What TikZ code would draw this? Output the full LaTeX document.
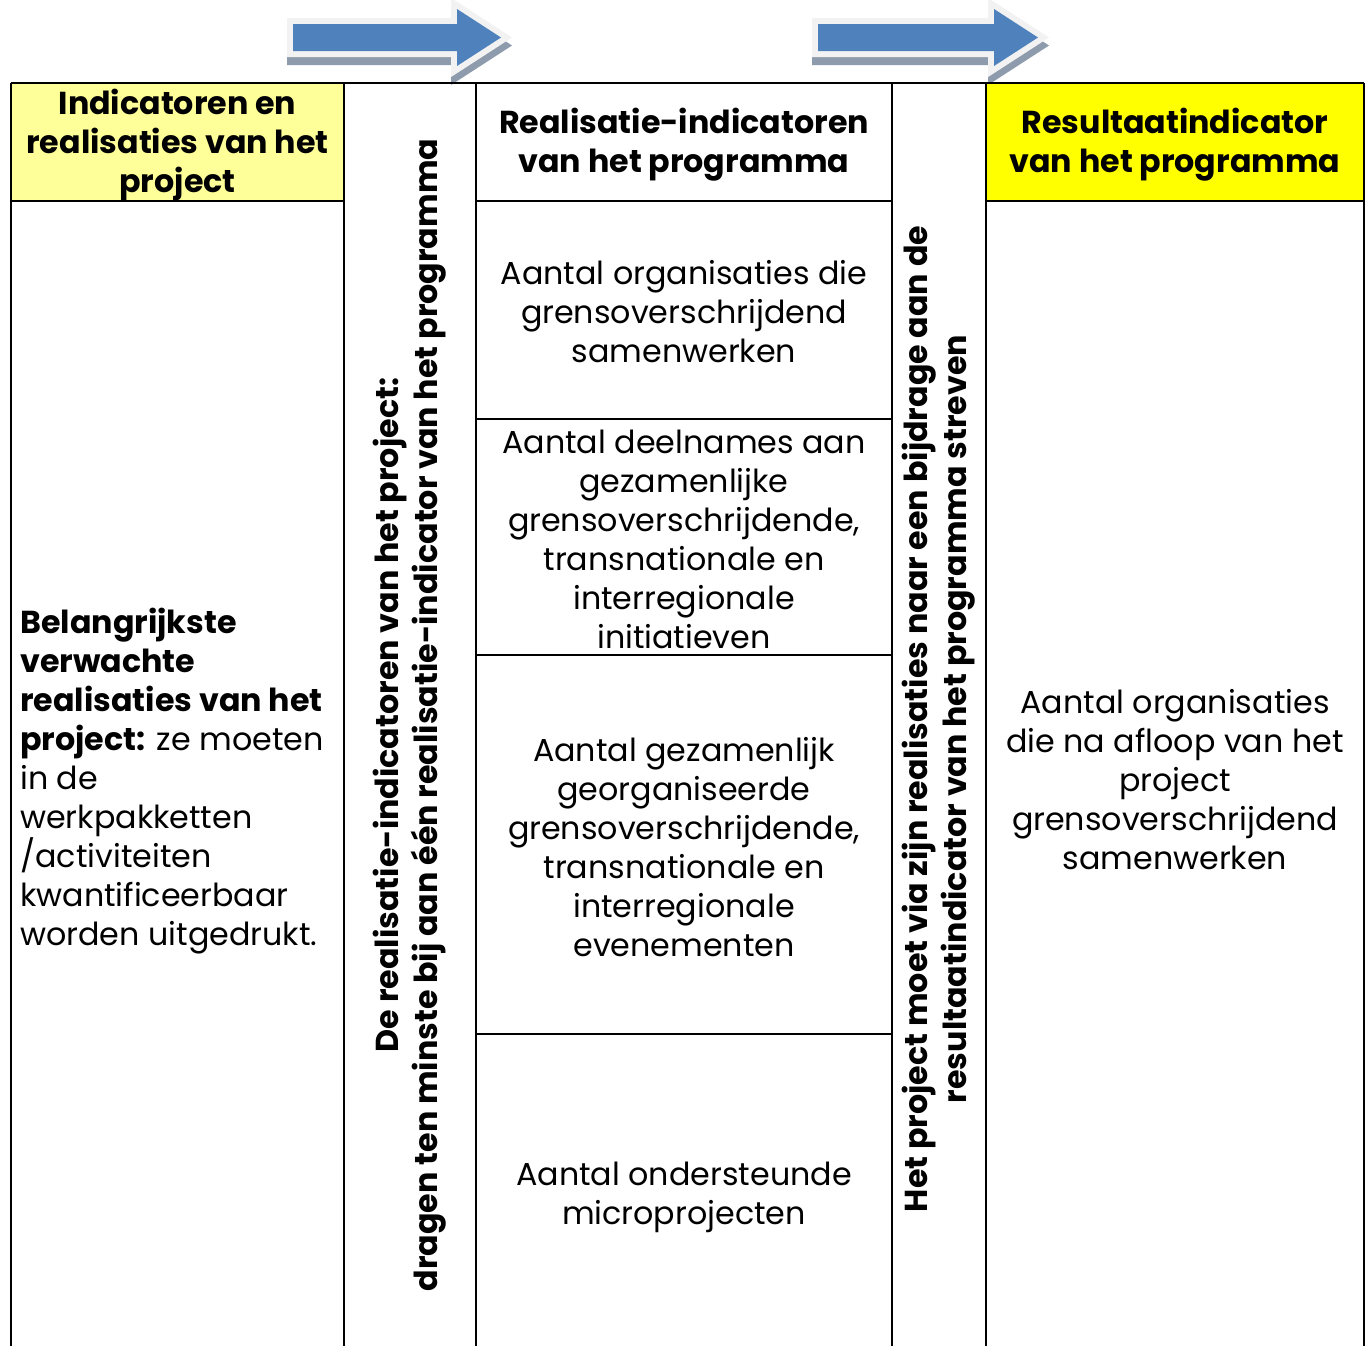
\documentclass[tikz,border=0pt]{standalone}
\usepackage{fontspec}
\setmainfont{Poppins}
\usetikzlibrary{calc}
\definecolor{arrowblue}{HTML}{4F81BD}
\definecolor{arrowrim}{HTML}{F2F2F2}
\definecolor{arrowshadow}{HTML}{8E9BAD}
\definecolor{paleyellow}{HTML}{FFFF99}
\definecolor{fullyellow}{HTML}{FFFF00}
\tikzstyle{gridline}=[line width=1.5pt]
\tikzstyle{celltext}=[align=center,inner sep=0pt,font=\fontsize{23.8}{29.25}\selectfont]
\tikzstyle{headtext}=[celltext,font=\fontsize{23.8}{29.25}\selectfont\bfseries]
\tikzstyle{sidetext}=[headtext,rotate=90]
\newcommand{\drawBlockArrow}[2]{
\pgfmathsetmacro{\xa}{#1}
\pgfmathsetmacro{\xb}{#1+#2}
\pgfmathsetmacro{\xc}{#1+#2+44}
% shadow, rim, then the blue body
\draw[arrowshadow,fill=arrowshadow,line width=9pt,line join=miter,shift={(0,8)}]
  (\xa,24) -- (\xb,24) -- (\xb,9) -- (\xc,37.5) -- (\xb,66) -- (\xb,51) -- (\xa,51) -- cycle;
\draw[arrowrim,fill=arrowblue,line width=9pt,line join=miter]
  (\xa,24) -- (\xb,24) -- (\xb,9) -- (\xc,37.5) -- (\xb,66) -- (\xb,51) -- (\xa,51) -- cycle;
\fill[arrowblue]
  (\xa,24) -- (\xb,24) -- (\xb,9) -- (\xc,37.5) -- (\xb,66) -- (\xb,51) -- (\xa,51) -- cycle;
}
\begin{document}
\begin{tikzpicture}[x=0.75pt,y=-0.75pt]
  \useasboundingbox (0,0) rectangle (1365,1346);
  \drawBlockArrow{293}{164}
  \drawBlockArrow{818}{176}
  % header fills
  \fill[paleyellow] (11,83) rectangle (344,201);
  \fill[fullyellow] (986,83) rectangle (1364,201);
  % grid
  \draw[gridline] (11,83) -- (1364,83);
  \foreach \x in {11,344,476,892,986,1364}
    \draw[gridline] (\x,83) -- (\x,1350);
  \draw[gridline] (11,201) -- (344,201);
  \draw[gridline] (986,201) -- (1364,201);
  \foreach \y in {201,419,655,1034}
    \draw[gridline] (476,\y) -- (892,\y);
  % headers
  \node[headtext] (hdproject) at (177.5,145) {Indicatoren en\\realisaties van het\\project};
  \node[headtext] (hdprogram) at (684,145) {Realisatie-indicatoren\\van het programma};
  \node[headtext] (hdresult) at (1175,145) {Resultaatindicator\\van het programma};
  % left body
  \node[celltext,align=left,anchor=west] (bodyproject) at (20,781)
    {\textbf{Belangrijkste}\\\textbf{verwachte}\\\textbf{realisaties van het}\\\textbf{project:} ze moeten\\in de\\werkpakketten\\/activiteiten\\kwantificeerbaar\\worden uitgedrukt.};
  % side columns
  \node[sidetext] (sideproject) at (410,715)
    {De realisatie-indicatoren van het project:\\dragen ten minste bij aan één realisatie-indicator van het programma};
  \node[sidetext] (sideresult) at (939,719)
    {Het project moet via zijn realisaties naar een bijdrage aan de\\resultaatindicator van het programma streven};
  % programme cells
  \node[celltext] (cellorgs) at (684,312) {Aantal organisaties die\\grensoverschrijdend\\samenwerken};
  \node[celltext] (cellinit) at (684,539) {Aantal deelnames aan\\gezamenlijke\\grensoverschrijdende,\\transnationale en\\interregionale\\initiatieven};
  \node[celltext] (cellevents) at (684,847) {Aantal gezamenlijk\\georganiseerde\\grensoverschrijdende,\\transnationale en\\interregionale\\evenementen};
  \node[celltext] (cellmicro) at (684,1197) {Aantal ondersteunde\\microprojecten};
  % result body
  \node[celltext] (bodyresult) at (1175,780) {Aantal organisaties\\die na afloop van het\\project\\grensoverschrijdend\\samenwerken};
\end{tikzpicture}
\end{document}
